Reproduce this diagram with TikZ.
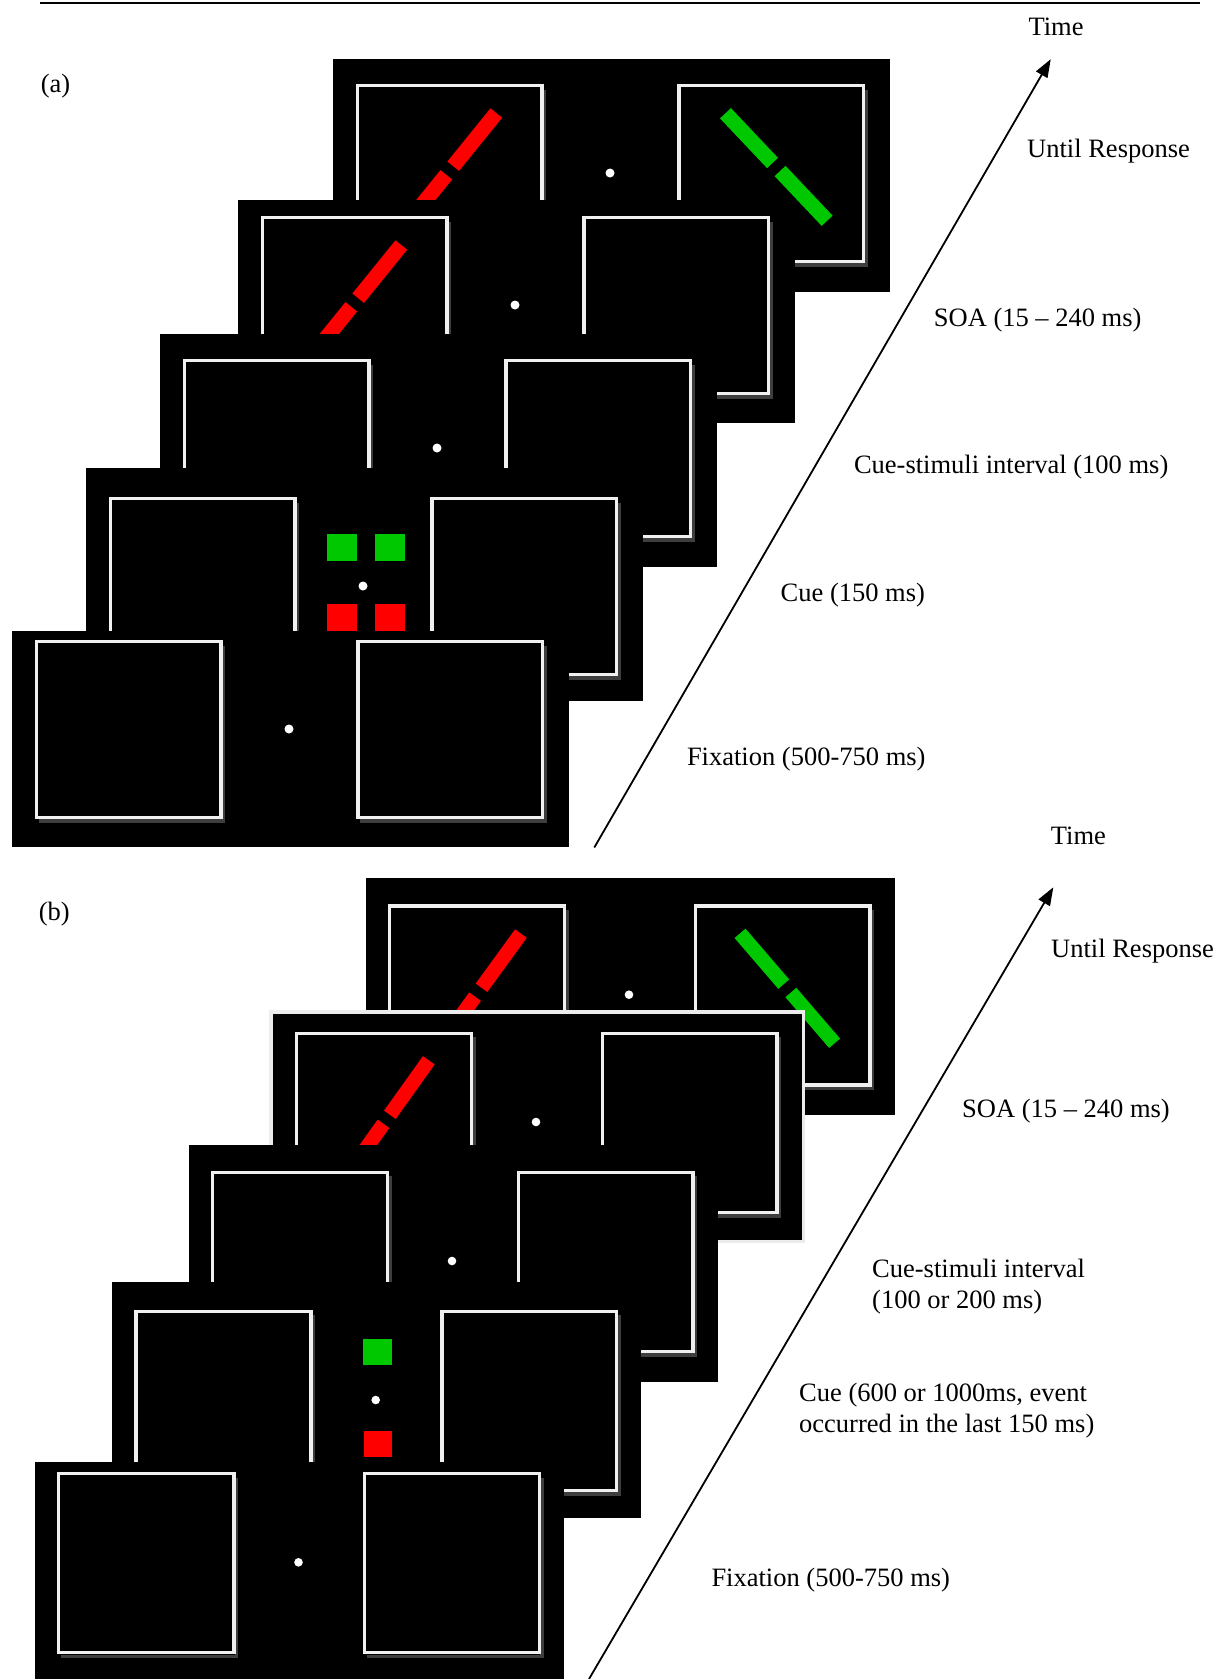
\documentclass[tikz,border=0pt]{standalone}
\usepackage{fontspec}
\setmainfont{Liberation Serif}
\usetikzlibrary{arrows.meta}

\definecolor{stimred}{RGB}{255,0,0}
\definecolor{stimgreen}{RGB}{0,200,0}
\definecolor{framewhite}{RGB}{240,240,240}
\definecolor{frameshadow}{RGB}{62,62,62}
\definecolor{screenedge}{RGB}{236,236,236}

% geometry of one display (relative to the fixation dot)
\newcommand\geomA{%
  \def\scrL{-277.5}\def\scrR{279.5}%
  \def\bxLa{-252.55}\def\bxLb{-67.95}\def\bxRa{68.85}\def\bxRb{253.75}%
  \def\bxT{-87.35}\def\bxB{88.35}\def\dotr{4.5}%
  \def\barhl{74}\def\barhw{7.5}\def\gaphalf{5.5}}
\newcommand\geomB{%
  \def\scrL{-263.3}\def\scrR{265.7}%
  \def\bxLa{-239.75}\def\bxLb{-64.65}\def\bxRa{66.25}\def\bxRb{240.95}%
  \def\bxT{-88.65}\def\bxB{90.35}\def\dotr{4.3}%
  \def\barhl{72.5}\def\barhw{7.2}\def\gaphalf{5.5}}

% placeholder frame; its shadow shows on the right and bottom only
\newcommand\stimframe[3]{%
  \draw[frameshade] ({#2+2.5},{#3+\bxT+4}) -- ({#2+2.5},{#3+\bxB+3.5})
                    -- ({#1+2.5},{#3+\bxB+3.5});
  \draw[frameline] ({#1},{#3+\bxT}) rectangle ({#2},{#3+\bxB});}

% black display: centre x, centre y, top, bottom (top/bottom relative)
\newcommand\stimscreen[4]{%
  \fill[black] ({#1+\scrL},{#2+#3}) rectangle ({#1+\scrR},{#2+#4});
  \stimframe{#1+\bxLa}{#1+\bxLb}{#2}%
  \stimframe{#1+\bxRa}{#1+\bxRb}{#2}%
  \fill[white] (#1,#2) circle[radius=\dotr];}

% broken bar: colour, centre x, centre y, angle
\newcommand\stimbar[4]{%
  \begin{scope}[shift={(#2,#3)},rotate=#4]
    \fill[#1] (\gaphalf,-\barhw) rectangle (\barhl,\barhw);
    \fill[#1] (-\gaphalf,-\barhw) rectangle (-\barhl,\barhw);
  \end{scope}}

\begin{document}
\begin{tikzpicture}[x=1pt,y=-1pt,
  frameline/.style={draw=framewhite,line width=3.3pt},
  frameshade/.style={draw=frameshadow,line width=3.3pt},
  phaselabel/.style={anchor=west,inner sep=0pt,align=left,
    font=\fontsize{26.5}{31}\selectfont},
  timeline/.style={line width=1.8pt,-{Triangle[length=18pt,width=13pt]}},
  rule/.style={line width=2.3pt}]

\useasboundingbox (0,0) rectangle (1219,1679);

% top rule
\coordinate (rule-l) at (40,2.8);
\coordinate (rule-r) at (1199.5,2.8);
\draw[rule] (rule-l) -- (rule-r);

% ---------------- panel (a) ----------------
\geomA
\stimscreen{610}{173}{-114}{119}
\stimbar{stimred}{449.75}{170.5}{51}
\stimbar{stimgreen}{776.3}{167}{133.4}

\stimscreen{515}{305}{-105}{118.3}
\stimbar{stimred}{354.75}{302.5}{51}

\stimscreen{437}{448}{-114}{118.7}

\stimscreen{363}{586}{-118.3}{114.7}
\fill[stimgreen] (327,534) rectangle (357,561);
\fill[stimgreen] (375,534) rectangle (405,561);
\fill[stimred] (327,604) rectangle (357,631);
\fill[stimred] (375,604) rectangle (405,631);

\stimscreen{289}{729}{-98}{117.7}

\coordinate (tA0) at (594.3,847.5);
\coordinate (tA1) at (1050.7,59.2);
\draw[timeline] (tA0) -- (tA1);

\node[phaselabel] (labA)   at (40.7,86.6)  {(a)};
\node[phaselabel] (timeA)  at (1028.3,27.3) {Time};
\node[phaselabel] (untilA) at (1027,151)   {Until Response};
\node[phaselabel] (soaA)   at (933.7,320)  {SOA (15 – 240 ms)};
\node[phaselabel] (csiA)   at (853.8,467.2) {Cue-stimuli interval (100 ms)};
\node[phaselabel] (cueA)   at (780.5,595.4) {Cue (150 ms)};
\node[phaselabel] (fixA)   at (686.8,759.5)  {Fixation (500-750 ms)};

% ---------------- panel (b) ----------------
\geomB
\stimscreen{629}{994.7}{-116.7}{120.3}
\stimbar{stimred}{478.3}{992.2}{54}
\stimbar{stimgreen}{787.3}{988.3}{130.7}

\draw[screenedge,line width=3.4pt] (271,1012) rectangle (803.3,1241.6);
\stimscreen{536}{1122}{-108}{118}
\stimbar{stimred}{386.7}{1119.3}{54.5}

\stimscreen{452}{1261}{-116}{121}

\stimscreen{375.7}{1400}{-118}{118.3}
\fill[stimgreen] (363,1339) rectangle (391.7,1365.3);
\fill[stimred] (364,1431) rectangle (391.7,1457.3);

\stimscreen{298.5}{1562.3}{-100.3}{116.7}

\coordinate (tB0) at (589,1679);
\coordinate (tB1) at (1053.3,887.3);
\draw[timeline] (tB0) -- (tB1);

\node[phaselabel] (labB)   at (38.6,914.1)  {(b)};
\node[phaselabel] (timeB)  at (1050.7,835.9) {Time};
\node[phaselabel] (untilB) at (1051,951.5)    {Until Response};
\node[phaselabel] (soaB)   at (962,1111)  {SOA (15 – 240 ms)};
\node[phaselabel] (csiB)   at (872,1286.9)  {Cue-stimuli interval\\(100 or 200 ms)};
\node[phaselabel] (cueB)   at (799,1411.1)  {Cue (600 or 1000ms, event\\occurred in the last 150 ms)};
\node[phaselabel] (fixB)   at (711.3,1580.5)  {Fixation (500-750 ms)};

\end{tikzpicture}
\end{document}
